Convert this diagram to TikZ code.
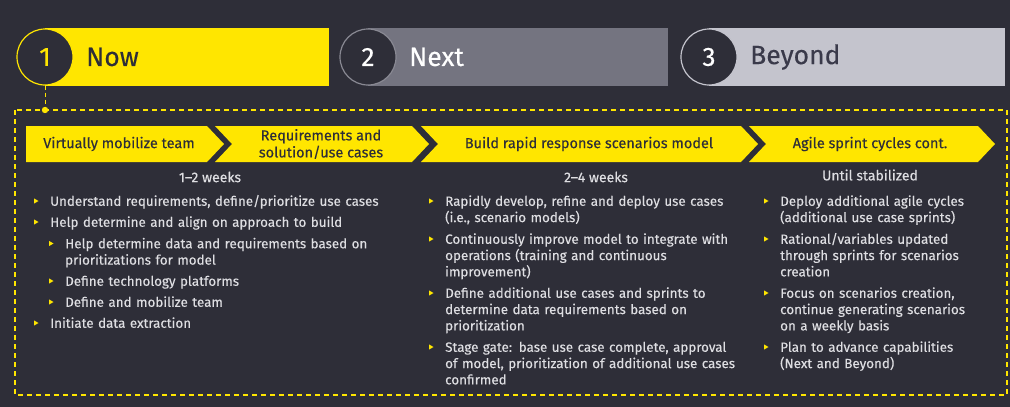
\documentclass[tikz,border=0pt]{standalone}
\usepackage{fontspec}
\setmainfont{Fira Sans}[FakeBold=0.25]
\definecolor{eybg}{HTML}{2E2E38}
\definecolor{eyyel}{HTML}{FFE600}
\definecolor{eygray}{HTML}{747480}
\definecolor{eylight}{HTML}{C4C4CD}
\definecolor{eytext}{HTML}{DEDEE2}
\definecolor{eydark}{HTML}{3A3A4A}
\newcommand\bodyfs{\fontsize{13.4}{16.3}\selectfont}
\newcommand\durfs{\fontsize{14}{16}\selectfont}
\newcommand\headfs{\fontsize{26.5}{28}\selectfont}
\newcommand\chevfs{\fontsize{14.5}{17}\selectfont}
\tikzset{
  numcirc/.style={circle, fill=eybg, line width=1.2pt, minimum size=56pt, inner sep=0pt, font=\headfs},
  headlbl/.style={anchor=west, inner sep=0pt, font=\headfs},
  chev/.style={fill=eyyel},
  chevlbl/.style={inner sep=0pt, align=center, font=\chevfs, text=eybg},
  durlbl/.style={inner sep=0pt, font=\durfs, text=eytext},
  itemtxt/.style={anchor=base west, inner sep=0pt, text width=400pt, align=left, font=\bodyfs, text=eytext},
  dashbox/.style={draw=eyyel, line width=1.1pt, dash pattern=on 5pt off 4pt},
}
% bullet: marker left of text, text base below marker centre
\newcommand\bitem[4]{%
  \fill[eyyel] (#1-16,#2-2.6) -- (#1-11.5,#2) -- (#1-16,#2+2.6) -- cycle;
  \node[itemtxt] (#3) at (#1,#2+4.8) {#4};}
\begin{document}
\begin{tikzpicture}[x=1pt,y=-1pt]
\fill[eybg] (0,0) rectangle (1010,407);
\useasboundingbox (0,0) rectangle (1010,407);

% header bars
\fill[eyyel] (45,28) rectangle (329,86);
\node[numcirc, draw=eyyel, text=eyyel] (c1) at (45,57) {1};
\node[headlbl, text=eybg] (h1) at (86,57) {Now};

\fill[eygray] (368,28) rectangle (668,86);
\node[numcirc, draw=eygray!85!white, text=white] (c2) at (368,57) {2};
\node[headlbl, text=white] (h2) at (409,57) {Next};

\fill[eylight] (709,28) rectangle (1005,86);
\node[numcirc, draw=eylight, text=white] (c3) at (709,57) {3};
\node[headlbl, text=eydark] (h3) at (750,57) {Beyond};

% dashed frame and connector
\draw[dashbox] (15,110) rectangle (1007,395);
\coordinate (dot) at (45,110);
\draw[eyyel, line width=1pt, dash pattern=on 4pt off 3pt] (c1.south) -- (dot);
\fill[eyyel] (dot) circle (3.2);

% chevrons
\fill[chev] (26,126) -- (207,126) -- (224,144) -- (207,162) -- (26,162) -- cycle;
\fill[chev] (215,126) -- (412,126) -- (429,144) -- (412,162) -- (215,162) -- (232,144) -- cycle;
\fill[chev] (421,126) -- (741,126) -- (758,144) -- (741,162) -- (421,162) -- (438,144) -- cycle;
\fill[chev] (749,126) -- (978,126) -- (995,144) -- (978,162) -- (749,162) -- (766,144) -- cycle;
\node[chevlbl] (s1) at (119,144) {Virtually mobilize team};
\node[chevlbl] (s2) at (321,144) {Requirements and\\solution/use cases};
\node[chevlbl] (s3) at (589,144) {Build rapid response scenarios model};
\node[chevlbl] (s4) at (870,144) {Agile sprint cycles cont.};

% durations
\node[durlbl] (d1) at (210,177) {1--2 weeks};
\node[durlbl] (d2) at (596,177) {2--4 weeks};
\node[durlbl] (d3) at (870,175) {Until stabilized};

% column 1
\bitem{50}{201}{a1}{Understand requirements, define/prioritize use cases}
\bitem{50}{222}{a2}{Help determine and align on approach to build}
\bitem{65}{243.5}{a3}{Help determine data and requirements based on\\prioritizations for model}
\bitem{65}{281}{a4}{Define technology platforms}
\bitem{65}{302}{a5}{Define and mobilize team}
\bitem{50}{323}{a6}{Initiate data extraction}

% column 2
\bitem{445}{201}{b1}{Rapidly develop, refine and deploy use cases\\(i.e., scenario models)}
\bitem{445}{239}{b2}{Continuously improve model to integrate with\\operations (training and continuous\\improvement)}
\bitem{445}{293}{b3}{Define additional use cases and sprints to\\determine data requirements based on\\prioritization}
\bitem{445}{347}{b4}{Stage gate: base use case complete, approval\\of model, prioritization of additional use cases\\confirmed}

% column 3
\bitem{780}{201}{e1}{Deploy additional agile cycles\\(additional use case sprints)}
\bitem{780}{239}{e2}{Rational/variables updated\\through sprints for scenarios\\creation}
\bitem{780}{293}{e3}{Focus on scenarios creation,\\continue generating scenarios\\on a weekly basis}
\bitem{780}{347}{e4}{Plan to advance capabilities\\(Next and Beyond)}
\end{tikzpicture}
\end{document}
